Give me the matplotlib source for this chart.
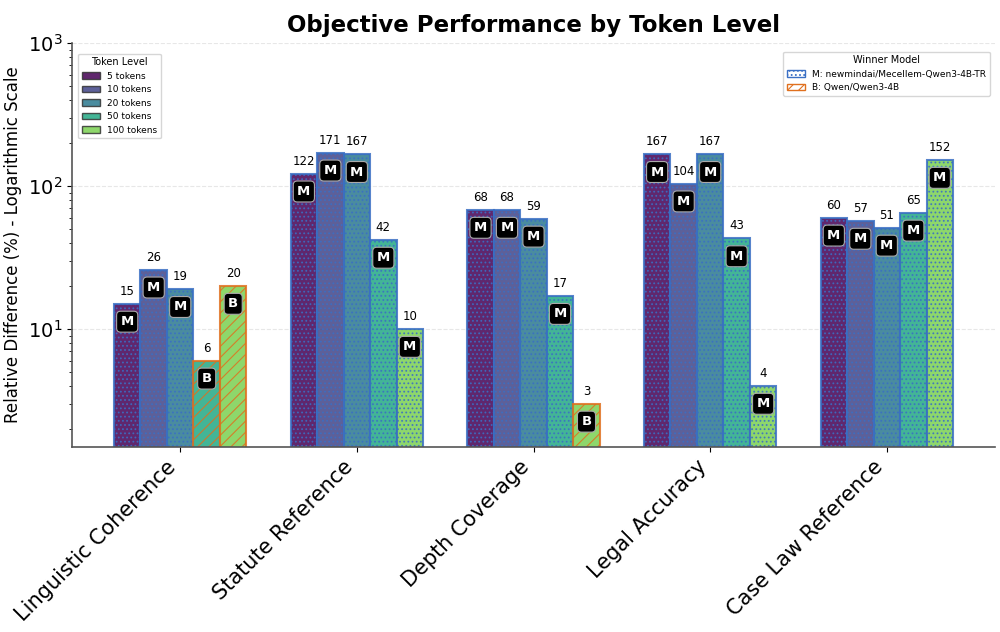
import matplotlib
matplotlib.use("Agg")
import matplotlib.pyplot as plt
import numpy as np
from matplotlib.patches import Patch

categories = ["Linguistic Coherence", "Statute Reference", "Depth Coverage",
              "Legal Accuracy", "Case Law Reference"]
token_levels = ["5 tokens", "10 tokens", "20 tokens", "50 tokens", "100 tokens"]

# values per token level (rows) for each category (cols)
values = [
    [15, 122, 68, 167, 60],
    [26, 171, 68, 104, 57],
    [19, 167, 59, 167, 51],
    [6, 42, 17, 43, 65],
    [20, 10, 3, 4, 152],
]
winners = [
    ["M", "M", "M", "M", "M"],
    ["M", "M", "M", "M", "M"],
    ["M", "M", "M", "M", "M"],
    ["B", "M", "M", "M", "M"],
    ["B", "M", "B", "M", "M"],
]

colors = plt.cm.viridis(np.linspace(0, 0.8, 5))
edge_m = "#3a6fc4"
edge_b = "#e0701e"
plt.rcParams["hatch.linewidth"] = 0.8

fig = plt.figure(figsize=(10, 6.32), dpi=100)
ax = fig.add_axes([0.072, 0.293, 0.923, 0.639])

x = np.arange(len(categories))
width = 0.15

for i, lvl in enumerate(token_levels):
    offs = x + (i - 2) * width
    for j in range(len(categories)):
        v = values[i][j]
        w = winners[i][j]
        ec = edge_m if w == "M" else edge_b
        hatch = "...." if w == "M" else "///"
        ax.bar(offs[j], v, width, color=colors[i], alpha=0.85, edgecolor=ec,
               hatch=hatch, linewidth=1.5)
        ax.text(offs[j], v * 1.1, str(v), ha="center", va="bottom", fontsize=8.5)
        ax.text(offs[j], v * 0.75, w, ha="center", va="center", fontsize=9.5,
                color="white", fontweight="bold",
                bbox=dict(boxstyle="round,pad=0.3", fc="black", ec="#aaaaaa", lw=0.8))

ax.set_yscale("log")
ax.set_ylim(1.5, 1000)
ax.set_xticks(x)
ax.set_xticklabels(categories, rotation=45, ha="right", fontsize=15)
ax.tick_params(axis="y", labelsize=14)
ax.set_ylabel("Relative Difference (%) - Logarithmic Scale", fontsize=12)
ax.set_title("Objective Performance by Token Level", fontsize=16.5, fontweight="bold", pad=8)
ax.grid(axis="y", which="major", linestyle="--", alpha=0.3)
ax.set_axisbelow(True)
ax.spines["top"].set_visible(False)
ax.spines["right"].set_visible(False)
for s in ["left", "bottom"]:
    ax.spines[s].set_color("#555555")
    ax.spines[s].set_linewidth(1.2)

h1 = [Patch(facecolor=colors[i], edgecolor="#333333", alpha=0.85, label=token_levels[i])
      for i in range(5)]
leg1 = ax.legend(handles=h1, title="Token Level", loc="upper left", fontsize=6.5,
                 title_fontsize=7, bbox_to_anchor=(0.002, 0.985))
ax.add_artist(leg1)
h2 = [Patch(facecolor="white", edgecolor=edge_m, hatch="....",
            label="M: newmindai/Mecellem-Qwen3-4B-TR"),
      Patch(facecolor="white", edgecolor=edge_b, hatch="///",
            label="B: Qwen/Qwen3-4B")]
ax.legend(handles=h2, title="Winner Model", loc="upper right", fontsize=6.5,
          title_fontsize=7, bbox_to_anchor=(0.999, 0.99))

fig.savefig("out.png", dpi=100)
